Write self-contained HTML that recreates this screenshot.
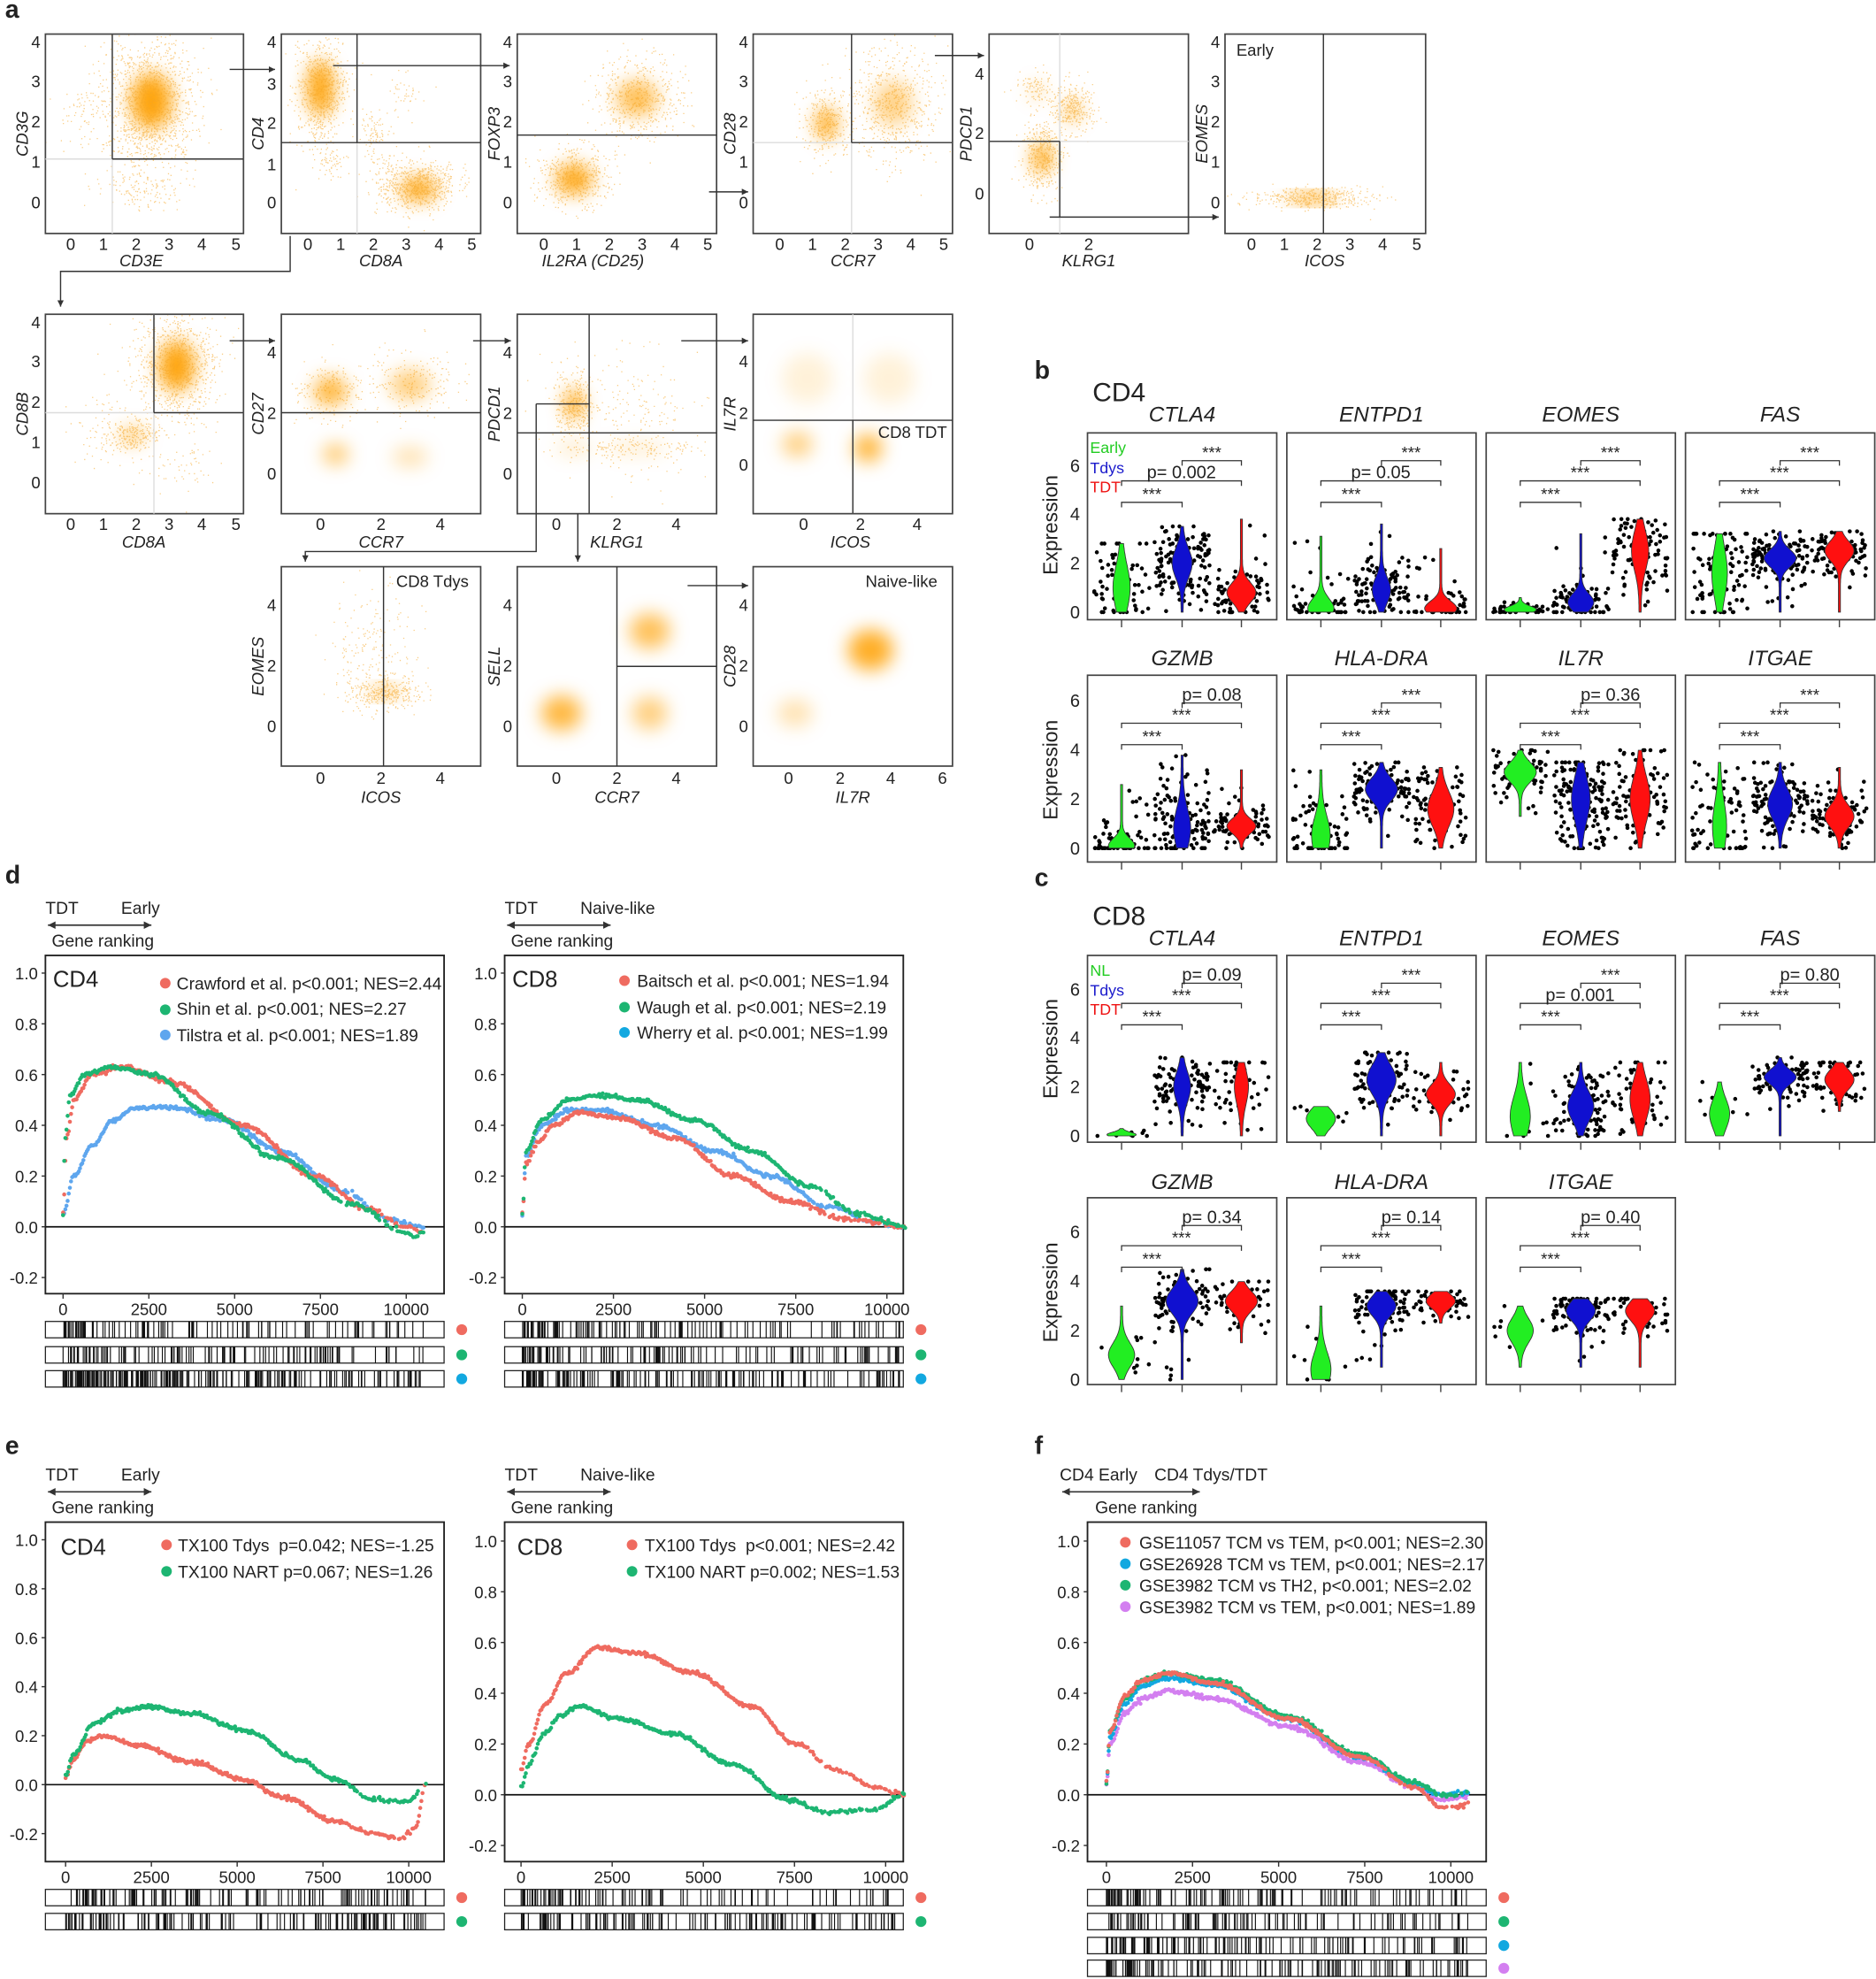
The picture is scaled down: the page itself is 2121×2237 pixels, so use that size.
<!DOCTYPE html>
<html><head><meta charset="utf-8"><style>
html,body{margin:0;padding:0;background:#fff}
svg{display:block}
text{font-family:"Liberation Sans",Arial,sans-serif;fill:#222}
.i{font-style:italic}
.b{font-weight:bold}
</style></head><body>
<svg id="s" xmlns="http://www.w3.org/2000/svg" width="2121" height="2237" viewBox="0 0 1487 1568" preserveAspectRatio="none">
<defs>
<filter id="bl" x="-50%" y="-50%" width="200%" height="200%"><feGaussianBlur stdDeviation="7"/></filter>
<marker id="ar" markerWidth="6" markerHeight="6" refX="5" refY="3" orient="auto"><path d="M0,0.5 L5,3 L0,5.5 Z" fill="#333"/></marker>
<marker id="al" markerWidth="6" markerHeight="6" refX="1" refY="3" orient="auto"><path d="M6,0.5 L1,3 L6,5.5 Z" fill="#333"/></marker>
</defs>
<g id="g"></g>
<text x="4" y="14" font-size="20" class="b">a</text>
<text x="820" y="300" font-size="20" class="b">b</text>
<text x="820" y="702" font-size="20" class="b">c</text>
<text x="4" y="700" font-size="20" class="b">d</text>
<text x="4" y="1152" font-size="20" class="b">e</text>
<text x="820" y="1152" font-size="20" class="b">f</text>

<g font-size="13">
<g text-anchor="end"><text x="32" y="38">4</text><text x="32" y="69">3</text><text x="32" y="101">2</text><text x="32" y="133">1</text><text x="32" y="165">0</text>
<text x="219" y="38">4</text><text x="219" y="71">3</text><text x="219" y="102">2</text><text x="219" y="135">1</text><text x="219" y="165">0</text>
<text x="406" y="38">4</text><text x="406" y="69">3</text><text x="406" y="101">2</text><text x="406" y="133">1</text><text x="406" y="165">0</text>
<text x="593" y="38">4</text><text x="593" y="69">3</text><text x="593" y="101">2</text><text x="593" y="133">1</text><text x="593" y="165">0</text>
<text x="780" y="63">4</text><text x="780" y="110">2</text><text x="780" y="158">0</text>
<text x="967" y="38">4</text><text x="967" y="69">3</text><text x="967" y="101">2</text><text x="967" y="133">1</text><text x="967" y="165">0</text>
</g>
<g text-anchor="middle">
<text x="56" y="198">0</text><text x="82" y="198">1</text><text x="108" y="198">2</text><text x="134" y="198">3</text><text x="160" y="198">4</text><text x="187" y="198">5</text>
<text x="244" y="198">0</text><text x="270" y="198">1</text><text x="296" y="198">2</text><text x="322" y="198">3</text><text x="348" y="198">4</text><text x="374" y="198">5</text>
<text x="431" y="198">0</text><text x="457" y="198">1</text><text x="483" y="198">2</text><text x="509" y="198">3</text><text x="535" y="198">4</text><text x="561" y="198">5</text>
<text x="618" y="198">0</text><text x="644" y="198">1</text><text x="670" y="198">2</text><text x="696" y="198">3</text><text x="722" y="198">4</text><text x="748" y="198">5</text>
<text x="816" y="198">0</text><text x="863" y="198">2</text>
<text x="992" y="198">0</text><text x="1018" y="198">1</text><text x="1044" y="198">2</text><text x="1070" y="198">3</text><text x="1096" y="198">4</text><text x="1123" y="198">5</text>
<text x="112" y="211" class="i">CD3E</text><text x="302" y="211" class="i">CD8A</text><text x="470" y="211" class="i">IL2RA (CD25)</text><text x="676" y="211" class="i">CCR7</text><text x="863" y="211" class="i">KLRG1</text><text x="1050" y="211" class="i">ICOS</text>
</g>
<g class="i" text-anchor="middle">
<text transform="translate(22,106) rotate(-90)">CD3G</text>
<text transform="translate(209,106) rotate(-90)">CD4</text>
<text transform="translate(396,106) rotate(-90)">FOXP3</text>
<text transform="translate(583,106) rotate(-90)">CD28</text>
<text transform="translate(770,106) rotate(-90)">PDCD1</text>
<text transform="translate(957,106) rotate(-90)">EOMES</text>
</g>
<text x="980" y="44">Early</text>

<g text-anchor="end"><text x="32" y="260">4</text><text x="32" y="291">3</text><text x="32" y="323">2</text><text x="32" y="355">1</text><text x="32" y="387">0</text>
<text x="219" y="284">4</text><text x="219" y="332">2</text><text x="219" y="380">0</text>
<text x="406" y="284">4</text><text x="406" y="332">2</text><text x="406" y="380">0</text>
<text x="593" y="291">4</text><text x="593" y="332">2</text><text x="593" y="373">0</text>
</g>
<g text-anchor="middle">
<text x="56" y="420">0</text><text x="82" y="420">1</text><text x="108" y="420">2</text><text x="134" y="420">3</text><text x="160" y="420">4</text><text x="187" y="420">5</text>
<text x="254" y="420">0</text><text x="302" y="420">2</text><text x="349" y="420">4</text>
<text x="441" y="420">0</text><text x="489" y="420">2</text><text x="536" y="420">4</text>
<text x="637" y="420">0</text><text x="682" y="420">2</text><text x="727" y="420">4</text>
<text x="114" y="434" class="i">CD8A</text><text x="302" y="434" class="i">CCR7</text><text x="489" y="434" class="i">KLRG1</text><text x="674" y="434" class="i">ICOS</text>
</g>
<g class="i" text-anchor="middle">
<text transform="translate(22,328) rotate(-90)">CD8B</text>
<text transform="translate(209,328) rotate(-90)">CD27</text>
<text transform="translate(396,328) rotate(-90)">PDCD1</text>
<text transform="translate(583,328) rotate(-90)">IL7R</text>
</g>
<text x="696" y="347">CD8 TDT</text>

<g text-anchor="end"><text x="219" y="484">4</text><text x="219" y="532">2</text><text x="219" y="580">0</text>
<text x="406" y="484">4</text><text x="406" y="532">2</text><text x="406" y="580">0</text>
<text x="593" y="484">4</text><text x="593" y="532">2</text><text x="593" y="580">0</text>
</g>
<g text-anchor="middle">
<text x="254" y="621">0</text><text x="302" y="621">2</text><text x="349" y="621">4</text>
<text x="441" y="621">0</text><text x="489" y="621">2</text><text x="536" y="621">4</text>
<text x="625" y="621">0</text><text x="666" y="621">2</text><text x="706" y="621">4</text><text x="747" y="621">6</text>
<text x="302" y="636" class="i">ICOS</text><text x="489" y="636" class="i">CCR7</text><text x="676" y="636" class="i">IL7R</text>
</g>
<g class="i" text-anchor="middle">
<text transform="translate(209,528) rotate(-90)">EOMES</text>
<text transform="translate(396,528) rotate(-90)">SELL</text>
<text transform="translate(583,528) rotate(-90)">CD28</text>
</g>
<text x="314" y="465">CD8 Tdys</text>
<text x="686" y="465">Naive-like</text>
</g>

<text x="866" y="318" font-size="21">CD4</text>
<text x="866" y="733" font-size="21">CD8</text>
<g font-size="17" class="i" text-anchor="middle">
<text x="937" y="334">CTLA4</text><text x="1095" y="334">ENTPD1</text><text x="1253" y="334">EOMES</text><text x="1411" y="334">FAS</text>
<text x="937" y="527">GZMB</text><text x="1095" y="527">HLA-DRA</text><text x="1253" y="527">IL7R</text><text x="1411" y="527">ITGAE</text>
<text x="937" y="749">CTLA4</text><text x="1095" y="749">ENTPD1</text><text x="1253" y="749">EOMES</text><text x="1411" y="749">FAS</text>
<text x="937" y="942">GZMB</text><text x="1095" y="942">HLA-DRA</text><text x="1253" y="942">ITGAE</text>
</g>
<g font-size="16" text-anchor="middle">
<text transform="translate(838,416) rotate(-90)">Expression</text>
<text transform="translate(838,610) rotate(-90)">Expression</text>
<text transform="translate(838,831) rotate(-90)">Expression</text>
<text transform="translate(838,1024) rotate(-90)">Expression</text>
</g>
<g font-size="14" text-anchor="end" fill="#444">
<text x="856" y="490">0</text><text x="856" y="451">2</text><text x="856" y="412">4</text><text x="856" y="374">6</text>
<text x="856" y="677">0</text><text x="856" y="638">2</text><text x="856" y="599">4</text><text x="856" y="560">6</text>
<text x="856" y="905">0</text><text x="856" y="866">2</text><text x="856" y="827">4</text><text x="856" y="789">6</text>
<text x="856" y="1098">0</text><text x="856" y="1059">2</text><text x="856" y="1020">4</text><text x="856" y="981">6</text>
</g>
<g font-size="12.5">
<text x="864" y="359" style="fill:#22cc22">Early</text><text x="864" y="375" style="fill:#1a1acc">Tdys</text><text x="864" y="390" style="fill:#ee1111">TDT</text>
<text x="864" y="773" style="fill:#22cc22">NL</text><text x="864" y="789" style="fill:#1a1acc">Tdys</text><text x="864" y="804" style="fill:#ee1111">TDT</text>
</g>

<g font-size="13.5">
<text x="36" y="724">TDT</text><text x="96" y="724">Early</text><text x="41" y="750">Gene ranking</text>
<text x="400" y="724">TDT</text><text x="460" y="724">Naive-like</text><text x="405" y="750">Gene ranking</text>
<text x="36" y="1173">TDT</text><text x="96" y="1173">Early</text><text x="41" y="1199">Gene ranking</text>
<text x="400" y="1173">TDT</text><text x="460" y="1173">Naive-like</text><text x="405" y="1199">Gene ranking</text>
<text x="840" y="1173">CD4 Early</text><text x="915" y="1173">CD4 Tdys/TDT</text><text x="868" y="1199">Gene ranking</text>
<text x="42" y="782" font-size="18">CD4</text><text x="406" y="782" font-size="18">CD8</text>
<text x="48" y="1232" font-size="18">CD4</text><text x="410" y="1232" font-size="18">CD8</text>
<text x="140" y="784">Crawford et al. p&lt;0.001; NES=2.44</text>
<text x="140" y="804">Shin et al. p&lt;0.001; NES=2.27</text>
<text x="140" y="825">Tilstra et al. p&lt;0.001; NES=1.89</text>
<text x="505" y="782">Baitsch et al. p&lt;0.001; NES=1.94</text>
<text x="505" y="803">Waugh et al. p&lt;0.001; NES=2.19</text>
<text x="505" y="823">Wherry et al. p&lt;0.001; NES=1.99</text>
<text x="141" y="1229">TX100 Tdys&#160; p=0.042; NES=-1.25</text>
<text x="141" y="1250">TX100 NART p=0.067; NES=1.26</text>
<text x="511" y="1229">TX100 Tdys&#160; p&lt;0.001; NES=2.42</text>
<text x="511" y="1250">TX100 NART p=0.002; NES=1.53</text>
<text x="903" y="1227">GSE11057 TCM vs TEM, p&lt;0.001; NES=2.30</text>
<text x="903" y="1244">GSE26928 TCM vs TEM, p&lt;0.001; NES=2.17</text>
<text x="903" y="1261">GSE3982 TCM vs TH2, p&lt;0.001; NES=2.02</text>
<text x="903" y="1278">GSE3982 TCM vs TEM, p&lt;0.001; NES=1.89</text>
</g>
<g font-size="13" fill="#333" id="gt"></g>
</svg>
<script>
(function(){
var NS="http://www.w3.org/2000/svg",G=document.getElementById('g'),GT=document.getElementById('gt');
var seed=12345;function R(){seed=(seed*1103515245+12345)%2147483648;return seed/2147483648;}
function N(){var u=R()||1e-9,v=R();return Math.sqrt(-2*Math.log(u))*Math.cos(6.2832*v);}
function el(t,a,p){var e=document.createElementNS(NS,t);for(var k in a)e.setAttribute(k,a[k]);(p||G).appendChild(e);return e;}
function line(x1,y1,x2,y2,c,w,p){return el('line',{x1:x1,y1:y1,x2:x2,y2:y2,stroke:c||'#333','stroke-width':w||1},p);}
function txt(x,y,s,anc,p,fs){var e=el('text',{x:x,y:y,'text-anchor':anc||'middle','font-size':fs||13},p||GT);e.textContent=s;return e;}

function flow(x0,y0,w,h,blobs,scat,gates){
  var sv=el('svg',{x:x0,y:y0,width:w,height:h,viewBox:x0+' '+y0+' '+w+' '+h});
  var gb=el('g',{filter:'url(#bl)'},sv);
  blobs.forEach(function(b){el('ellipse',{cx:b[0],cy:b[1],rx:b[2],ry:b[3],fill:'#ffa000','fill-opacity':b[4]},gb);});
  var s='';
  scat.forEach(function(c){for(var i=0;i<c[4];i++){var x=c[0]+N()*c[2],y=c[1]+N()*c[3];s+='M'+x.toFixed(1)+' '+y.toFixed(1)+'h0.9';}});
  el('path',{d:s,stroke:'#f5a623','stroke-width':0.9,'stroke-opacity':0.55},sv);
  el('rect',{x:x0,y:y0,width:w,height:h,fill:'none',stroke:'#444','stroke-width':1.2});
  (gates||[]).forEach(function(g){line(g[0],g[1],g[2],g[3],g[4]||'#333',g[5]||1);});
}
var L='#ddd';
flow(36,27,157,158,[[120,80,16,22,.95]],[[118,82,18,26,1400],[66,95,10,14,60],[108,150,16,8,120]],
 [[89,27,89,185,L],[36,126,193,126,L],[89,27,89,126],[89,126,193,126]]);
flow(223,27,158,158,[[254,70,10,22,.95],[332,150,14,9,.9]],[[254,72,10,22,700],[330,147,16,10,700],[296,110,6,10,100],[262,128,6,7,60],[318,75,10,8,40]],
 [[283,27,283,185,L],[223,113,381,113],[283,27,283,113]]);
flow(410,27,158,158,[[455,142,14,12,.9],[505,78,16,14,.65]],[[455,140,14,12,500],[505,78,18,16,500]],
 [[410,107,568,107]]);
flow(597,27,158,158,[[655,98,8,12,.9],[708,82,15,18,.45]],[[655,98,10,14,300],[708,82,18,22,600]],
 [[675,27,675,185,L],[597,113,755,113,L],[675,27,675,113],[675,113,755,113]]);
flow(784,27,158,158,[[826,125,7,12,.95],[850,88,6,9,.6],[822,72,6,7,.3]],[[826,125,8,14,400],[850,85,8,10,300],[820,70,8,8,100]],
 [[840,27,840,185,L],[784,112,942,112,L],[784,112,840,112],[840,112,840,172]]);
flow(971,27,159,158,[[1040,157,20,4,.85]],[[1040,157,24,4,400]],[[1049,27,1049,185]]);
flow(36,249,157,158,[[140,290,14,20,.95],[105,345,10,6,.6]],[[140,290,16,22,900],[105,345,10,6,200],[80,340,14,20,80],[140,370,20,10,60]],
 [[122,249,122,407,L],[36,327,193,327,L],[122,249,122,327],[122,327,193,327]]);
flow(223,249,158,158,[[262,310,13,11,.8],[325,305,16,12,.5],[266,360,10,8,.6],[325,362,14,8,.3]],[[262,310,14,12,200],[325,305,18,14,200]],
 [[223,327,381,327]]);
flow(410,249,158,158,[[455,320,7,12,.9],[505,355,24,5,.2],[455,355,14,6,.2]],[[455,320,8,14,300],[500,330,30,25,200],[505,355,30,4,150]],
 [[467,249,467,407],[410,343,568,343],[425,320,467,320],[425,320,425,407]]);
flow(597,249,158,158,[[688,355,11,11,.8],[632,352,12,10,.5],[640,300,20,20,.15],[705,300,20,20,.15]],[],
 [[676,249,676,407,L],[597,333,755,333],[676,333,676,407]]);
flow(223,449,158,158,[[305,548,12,5,.55]],[[305,548,14,6,300],[296,520,18,25,200]],[[304,449,304,607]]);
flow(410,449,158,158,[[445,565,16,14,.75],[515,565,14,13,.5],[515,500,16,14,.65]],[],
 [[489,449,489,607],[489,528,568,528]]);
flow(597,449,158,158,[[690,515,18,16,.85],[630,565,14,11,.3]],[],[]);
function arr(d){el('path',{d:d,fill:'none',stroke:'#333','stroke-width':1,'marker-end':'url(#ar)'});}
arr('M182 55H218');arr('M264 52H404');arr('M562 152H593');arr('M741 44H780');arr('M832 172H966');
arr('M230 187V215H48V243');arr('M182 270H218');arr('M375 270H405');arr('M540 270H593');
arr('M425 407V437H242V445');arr('M458 407V445');arr('M545 464H593');

var GC='#22ee22',BC='#1010d0',RC='#ff1010';
var vdat=[
 [862,343,485,[[1,.9,0,2.8,.5,60],[2,.6,0,3.5,.6,130],[.8,.4,0,3.8,.9,80]],['***','p= 0.002','***']],
 [1020,343,485,[[.15,.4,0,3.1,.8,50],[.9,.5,0,3.6,.55,110],[.15,.3,0,2.6,1,45]],['***','p= 0.05','***']],
 [1178,343,485,[[.1,.15,0,.6,1,40],[.4,.35,0,3.2,.8,80],[2.5,.8,0,3.8,.5,90]],['***','***','***']],
 [1336,343,485,[[1.6,1,0,3.2,.45,90],[2.2,.35,0,3.3,1,130],[2.5,.4,0,3.3,.9,90]],['***','***','***']],
 [862,535,672,[[.1,.3,0,2.6,.8,60],[.8,.8,0,3.8,.5,130],[.9,.3,0,3.2,.9,80]],['p= 0.08','***','***']],
 [1020,535,672,[[.5,.8,0,3.2,.55,70],[2.4,.45,0,3.5,1,120],[1.6,.7,0,3.3,.8,90]],['***','***','***']],
 [1178,535,672,[[3.1,.4,1.3,4,1,80],[2,.9,0,3.5,.55,150],[2,.9,0,4,.6,90]],['p= 0.36','***','***']],
 [1336,535,672,[[.9,1,0,3.5,.4,80],[1.8,.6,0,3.5,.75,130],[1.3,.45,0,3.3,.9,90]],['***','***','***']],
 [862,757,900,[[.05,.1,0,.3,.9,8],[2,.6,0,3.2,.5,90],[2,.7,0,3,.4,50]],['p= 0.09','***','***']],
 [1020,757,900,[[.7,.4,0,1.2,.9,10],[2.3,.6,0,3.4,.9,90],[1.7,.4,0,3,.9,40]],['***','***','***']],
 [1178,757,900,[[.8,.8,0,3,.6,12],[1.2,.6,0,3,.8,90],[1.5,.8,0,3,.6,50]],['***','p= 0.001','***']],
 [1336,757,900,[[.9,.6,0,2.2,.6,8],[2.4,.3,0,3.2,1,90],[2.3,.4,1,3,.9,50]],['p= 0.80','***','***']],
 [862,949,1093,[[1,.5,0,3,.8,12],[3.2,.5,0,4.5,1,90],[3.2,.4,1.5,4,1,50]],['p= 0.34','***','***']],
 [1020,949,1093,[[.4,.7,0,3,.6,10],[3,.4,.5,3.6,.9,90],[3.2,.3,2.3,3.6,.9,50]],['p= 0.14','***','***']],
 [1178,949,1093,[[2,.5,.5,3,.8,10],[2.8,.4,.5,3.3,.9,90],[2.8,.4,.5,3.3,.9,50]],['p= 0.40','***','***']]
];
var cols=[GC,BC,RC];
vdat.forEach(function(b){
  var x0=b[0],yt=b[1],y0=b[2],sc=19.4,xs=[x0+27,x0+75,x0+122];
  el('rect',{x:x0,y:yt,width:150,height:148,fill:'#fff',stroke:'#444','stroke-width':1.2});
  xs.forEach(function(x){line(x,yt+148,x,yt+154,'#444',1);});
  b[3].forEach(function(v,i){
    var xc=xs[i],m=v[0],s=v[1],lo=v[2],hi=v[3],w=v[4]*12,n=v[5];
    var d='';
    for(var k=0;k<n;k++){var val=m+N()*s*1.2;if(R()<.1)val=lo+R()*(hi-lo);val=Math.max(lo,Math.min(hi,val));var x=xc+(R()*2-1)*22;d+='M'+x.toFixed(1)+' '+(y0-val*sc).toFixed(1)+'h0.01';}
    el('path',{d:d,stroke:'#000','stroke-width':3.2,'stroke-linecap':'round'});
    var Lp=[],Rr=[];
    for(var j=0;j<=40;j++){var val=lo+(hi-lo)*j/40;var f=Math.exp(-Math.pow(val-m,2)/(2*s*s))*w+0.8;var y=(y0-val*sc).toFixed(1);Lp.push((xc-f).toFixed(1)+' '+y);Rr.unshift((xc+f).toFixed(1)+' '+y);}
    el('path',{d:'M'+Lp.join('L')+'L'+Rr.join('L')+'Z',fill:cols[i],stroke:'#333','stroke-width':.6});
  });
  var br=[[xs[1],xs[2],yt+22],[xs[0],xs[2],yt+38],[xs[0],xs[1],yt+55]];
  br.forEach(function(q,i){
    el('path',{d:'M'+q[0]+' '+(q[2]+4)+'V'+q[2]+'H'+q[1]+'V'+(q[2]+4),fill:'none',stroke:'#333','stroke-width':.9});
    var lab=b[4][i],star=lab=='***';
    txt((q[0]+q[1])/2,q[2]-2,lab,'middle',GT,star?13:14);
  });
});

function interp(kp,t){for(var i=0;i<kp.length-1;i++){if(t<=kp[i+1][0]){var a=kp[i],b=kp[i+1],u=(t-a[0])/(b[0]-a[0]);u=(1-Math.cos(Math.PI*u))/2;return a[1]+(b[1]-a[1])*u;}}return kp[kp.length-1][1];}
function gsea(o){
  var bx=o.bx,by=o.by,bw=316,bh=o.bh;
  el('rect',{x:bx,y:by,width:bw,height:bh,fill:'#fff',stroke:'#222','stroke-width':1.3});
  var Y=function(v){return o.y0-v*o.ys;},X=function(r){return o.x0+r*o.xs;};
  line(bx,Y(0),bx+bw,Y(0),'#111',1.2);
  [1,.8,.6,.4,.2,0,-.2].forEach(function(v){txt(bx-6,Y(v)+5,v.toFixed(1),'end',GT,13);line(bx-3,Y(v),bx,Y(v),'#333',1);});
  [0,2500,5000,7500,10000].forEach(function(r){txt(X(r),by+bh+17,String(r),'middle',GT,13);line(X(r),by+bh,X(r),by+bh+4,'#333',1);});
  o.curves.forEach(function(c){
    var d='';
    for(var k=0;k<320;k++){var t=k/319;if(t>.75&&R()<.35)continue;var r=t*10500;var v=interp(c.kp,t)+N()*0.004;d+='M'+X(r).toFixed(1)+' '+Y(v).toFixed(1)+'h0.01';}
    el('path',{d:d,stroke:c.col,'stroke-width':3.2,'stroke-linecap':'round'});
  });
  (o.leg||[]).forEach(function(l){el('circle',{cx:l[0],cy:l[1],r:4.2,fill:l[2]});});
  o.bars.forEach(function(b,i){
    var yy=o.bary[i];
    el('rect',{x:bx,y:yy,width:bw,height:13,fill:'#fff',stroke:'#222','stroke-width':.9});
    var d='';
    for(var k=0;k<b.n;k++){var t=Math.pow(R(),b.p);var x=X(t*10500);if(x>bx+bw-2)continue;d+='M'+x.toFixed(1)+' '+yy+'v13';}
    el('path',{d:d,stroke:'#111','stroke-width':.8});
    el('circle',{cx:bx+bw+14,cy:yy+6.5,r:4.3,fill:b.col});
  });
}
var cR='#ef6b60',cG='#1db572',cB='#5ea6ee',cC='#12a8e0',cM='#d37ff0';
var dbar=[1047,1067,1086],ebar=[1497,1516],fbar=[1497,1516,1535,1553];
gsea({bx:36,by:757,bh:268,x0:50,xs:0.0272,y0:972,ys:201,
 curves:[
 {col:cB,kp:[[0,.05],[.03,.2],[.08,.32],[.14,.42],[.2,.47],[.3,.47],[.45,.42],[.6,.3],[.78,.14],[.9,.03],[1,0]]},
 {col:cR,kp:[[0,.05],[.01,.35],[.03,.5],[.08,.6],[.17,.63],[.3,.57],[.5,.4],[.7,.2],[.85,.07],[.95,0],[1,-.02]]},
 {col:cG,kp:[[0,.05],[.005,.35],[.02,.52],[.06,.6],[.13,.63],[.25,.6],[.4,.45],[.6,.27],[.8,.09],[.95,-.02],[.98,-.04],[1,-.02]]}],
 leg:[[131,779,cR],[131,800,cG],[131,820,cB]],
 bars:[{n:110,p:1.3,col:cR},{n:120,p:1.5,col:cG},{n:240,p:1.6,col:cC}],bary:dbar});
gsea({bx:400,by:757,bh:268,x0:414,xs:0.0289,y0:972,ys:201,
 curves:[
 {col:cB,kp:[[0,.05],[.01,.28],[.05,.4],[.12,.46],[.2,.46],[.35,.4],[.5,.3],[.65,.2],[.8,.08],[.92,.02],[1,0]]},
 {col:cR,kp:[[0,.05],[.01,.25],[.04,.33],[.08,.4],[.15,.45],[.25,.43],[.4,.35],[.55,.2],[.7,.1],[.85,.03],[1,0]]},
 {col:cG,kp:[[0,.05],[.01,.3],[.05,.42],[.12,.5],[.2,.52],[.3,.5],[.45,.42],[.6,.3],[.75,.16],[.88,.05],[1,0]]}],
 leg:[[495,777,cR],[495,798,cG],[495,818,cC]],
 bars:[{n:120,p:1.5,col:cR},{n:130,p:1.5,col:cG},{n:160,p:1.5,col:cC}],bary:dbar});
gsea({bx:36,by:1206,bh:269,x0:52,xs:0.0272,y0:1414,ys:194,
 curves:[
 {col:cR,kp:[[0,.03],[.02,.1],[.06,.18],[.1,.2],[.2,.16],[.35,.09],[.5,.02],[.6,-.05],[.75,-.15],[.85,-.2],[.93,-.22],[.97,-.18],[1,0]]},
 {col:cG,kp:[[0,.03],[.02,.12],[.08,.25],[.15,.3],[.22,.32],[.35,.29],[.5,.22],[.65,.1],[.75,.02],[.85,-.06],[.95,-.07],[1,0]]}],
 leg:[[132,1224,cR],[132,1245,cG]],
 bars:[{n:130,p:1.1,col:cR},{n:150,p:1.2,col:cG}],bary:ebar});
gsea({bx:400,by:1206,bh:269,x0:413,xs:0.0289,y0:1422,ys:201,
 curves:[
 {col:cR,kp:[[0,.1],[.02,.2],[.06,.35],[.12,.48],[.2,.58],[.3,.56],[.45,.48],[.6,.35],[.72,.2],[.82,.1],[.93,.03],[1,0]]},
 {col:cG,kp:[[0,.03],[.02,.12],[.06,.24],[.1,.31],[.15,.35],[.25,.3],[.4,.24],[.55,.12],[.7,-.02],[.8,-.07],[.92,-.06],[1,0]]}],
 leg:[[501,1224,cR],[501,1245,cG]],
 bars:[{n:110,p:1.7,col:cR},{n:150,p:1.4,col:cG}],bary:ebar});
gsea({bx:862,by:1206,bh:269,x0:877,xs:0.0273,y0:1422,ys:201,
 curves:[
 {col:cM,kp:[[0,.04],[.01,.2],[.05,.32],[.1,.38],[.17,.41],[.3,.38],[.5,.27],[.7,.13],[.85,.03],[.93,-.02],[1,-.01]]},
 {col:cC,kp:[[0,.05],[.01,.23],[.05,.36],[.1,.43],[.17,.46],[.3,.43],[.5,.3],[.7,.15],[.85,.04],[.93,0],[1,.01]]},
 {col:cG,kp:[[0,.05],[.01,.25],[.05,.38],[.1,.45],[.17,.48],[.3,.45],[.5,.31],[.7,.16],[.85,.05],[.93,0],[1,0]]},
 {col:cR,kp:[[0,.05],[.01,.25],[.05,.39],[.1,.45],[.17,.48],[.3,.44],[.5,.3],[.7,.15],[.85,.03],[.93,-.05],[1,-.04]]}],
 leg:[[892,1222,cR],[892,1239,cC],[892,1256,cG],[892,1273,cM]],
 bars:[{n:130,p:1.5,col:cR},{n:110,p:1.4,col:cG},{n:130,p:1.5,col:cC},{n:140,p:1.4,col:cM}],bary:fbar});
[[36,122,733],[400,486,733],[36,122,1182],[400,486,1182],[840,953,1182]].forEach(function(a){
  el('path',{d:'M'+(a[0]+2)+' '+a[2]+'H'+(a[1]-2),stroke:'#333','stroke-width':1.2,fill:'none','marker-end':'url(#ar)','marker-start':'url(#al)'});
});
})();
</script>
</body></html>
